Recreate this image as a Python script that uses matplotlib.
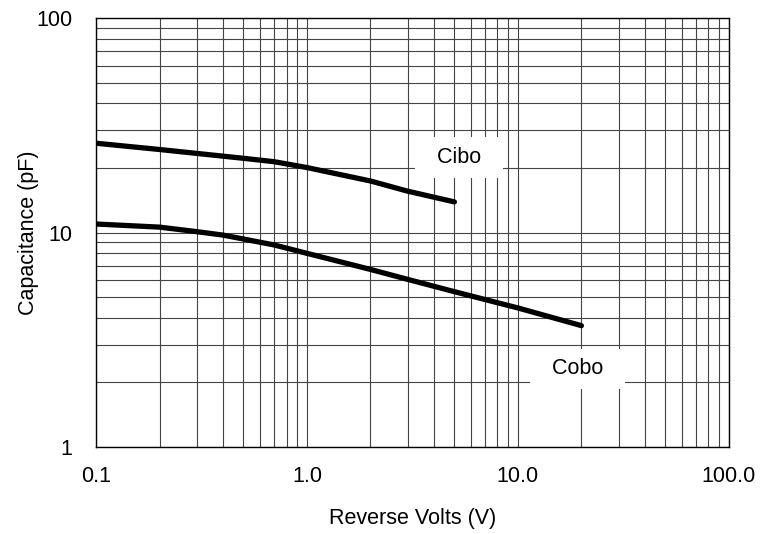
import matplotlib.pyplot as plt
from matplotlib.ticker import FixedLocator, NullFormatter, LogLocator

plt.rcParams['font.family'] = ['Liberation Sans', 'DejaVu Sans']

# curves
cibo_v = [0.1, 0.2, 0.3, 0.5, 0.7, 1.0, 2.0, 3.0, 5.0]
cibo_pf = [26.1, 24.4, 23.4, 22.2, 21.4, 20.1, 17.4, 15.6, 13.9]

cobo_v = [0.1, 0.2, 0.3, 0.4, 0.5, 0.7, 1.0, 2.0, 3.0, 5.0, 10.0, 20.0]
cobo_pf = [10.96, 10.6, 10.1, 9.73, 9.33, 8.75, 8.0, 6.73, 6.05, 5.3, 4.45, 3.68]

x_ticks = [0.1, 1.0, 10.0, 100.0]
x_labels = ["0.1", "1.0", "10.0", "100.0"]
y_ticks = [1, 10, 100]
y_labels = ["1", "10", "100"]

fs = 15.5

fig = plt.figure(figsize=(7.68, 5.34), dpi=100)
ax = fig.add_axes([0.125, 0.163, 0.824, 0.803])

ax.set_xscale("log")
ax.set_yscale("log")
ax.set_xlim(0.1, 100)
ax.set_ylim(1, 100)

ax.xaxis.set_major_locator(FixedLocator(x_ticks))
ax.set_xticklabels(x_labels)
ax.yaxis.set_major_locator(FixedLocator(y_ticks))
ax.set_yticklabels(y_labels)
ax.xaxis.set_minor_locator(LogLocator(base=10, subs=range(2, 10)))
ax.yaxis.set_minor_locator(LogLocator(base=10, subs=range(2, 10)))
ax.xaxis.set_minor_formatter(NullFormatter())
ax.yaxis.set_minor_formatter(NullFormatter())

ax.grid(True, which="both", color="#444444", linewidth=0.8)
ax.tick_params(which="both", length=0, labelsize=fs)
ax.tick_params(axis="x", pad=14)
ax.tick_params(axis="y", pad=17)
for s in ax.spines.values():
    s.set_linewidth(1.0)
    s.set_color("black")

ax.plot(cibo_v, cibo_pf, color="black", lw=3.8, solid_capstyle="round", zorder=3)
ax.plot(cobo_v, cobo_pf, color="black", lw=3.8, solid_capstyle="round", zorder=3)

box = dict(facecolor="white", edgecolor="none", boxstyle="square,pad=0.45")
ax.text(5.25, 22.4, "  Cibo  ", fontsize=fs, ha="center", va="center", bbox=box, zorder=4)
ax.text(19.2, 2.31, "  Cobo  ", fontsize=fs, ha="center", va="center", bbox=box, zorder=4)

ax.set_xlabel("Reverse Volts (V)", fontsize=fs, labelpad=15)
ax.set_ylabel("Capacitance (pF)", fontsize=fs)
ax.yaxis.set_label_coords(-0.09, 0.5)

fig.savefig("out.png", dpi=100)
